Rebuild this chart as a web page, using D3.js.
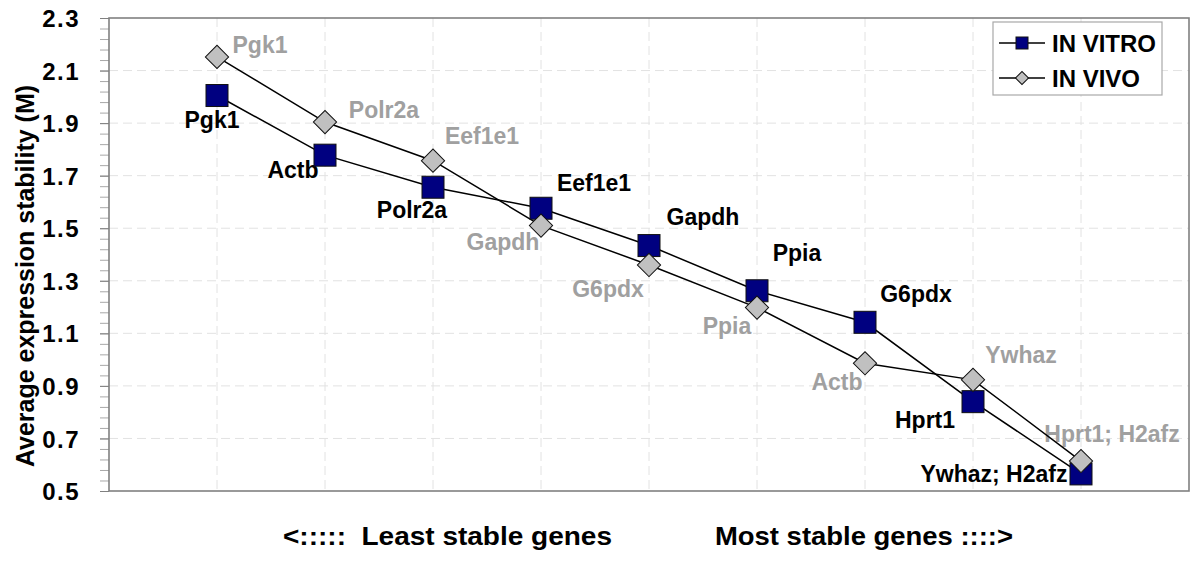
<!DOCTYPE html>
<html>
<head>
<meta charset="utf-8">
<script src="https://cdn.jsdelivr.net/npm/d3@7"></script>
<style>
  html, body { margin: 0; padding: 0; background: #fff; }
  svg { display: block; font-family: "Liberation Sans", Arial, sans-serif; font-weight: bold; }
</style>
</head>
<body>
<svg id="chart" width="1200" height="570"></svg>
<script>
// ---- data ----
const positions = [1, 2, 3, 4, 5, 6, 7, 8, 9];
const vitroGenes = ["Pgk1", "Actb", "Polr2a", "Eef1e1", "Gapdh", "Ppia", "G6pdx", "Hprt1", "Ywhaz; H2afz"];
const vitroValues = [2.005, 1.778, 1.656, 1.576, 1.434, 1.262, 1.142, 0.840, 0.565];
const vivoGenes = ["Pgk1", "Polr2a", "Eef1e1", "Gapdh", "G6pdx", "Ppia", "Actb", "Ywhaz", "Hprt1; H2afz"];
const vivoValues = [2.152, 1.904, 1.757, 1.510, 1.360, 1.198, 0.986, 0.923, 0.614];
const yTicks = [0.5, 0.7, 0.9, 1.1, 1.3, 1.5, 1.7, 1.9, 2.1, 2.3];
const seriesNames = ["IN VITRO", "IN VIVO"];
const yTitle = "Average expression stability (M)";
const leftNote = "<:::::  Least stable genes";
const rightNote = "Most stable genes ::::>";

// ---- layout (label offsets in pixels relative to each marker) ----
const vitroLabelOffsets = [[-5, 32], [-32, 23], [-21, 31], [53, -17], [54, -21], [40, -30], [51, -20], [-48, 26], [-87, 8]];
const vivoLabelOffsets = [[43, -4], [59, -4], [49, -17], [-38, 24], [-41, 32], [-30, 26], [-28, 27], [48, -17], [31, -19]];

(function () {
const svg = d3.select("#chart");
const pLeft = 109, pRight = 1189, pTop = 18, pBottom = 491;
const x = d3.scaleLinear().domain([0, 10]).range([pLeft, pRight]);
const y = d3.scaleLinear().domain([0.5, 2.3]).range([pBottom, pTop]);

const NAVY = "#000080", GRAY = "#c0c0c0", LABELGRAY = "#a0a0a0";

// gridlines
const grid = svg.append("g");
grid.selectAll("line.h").data(yTicks.slice(1, -1)).join("line").attr("class", "h")
  .attr("x1", pLeft).attr("x2", pRight)
  .attr("y1", d => y(d)).attr("y2", d => y(d))
  .attr("stroke", "#e2e2e2").attr("stroke-width", 1).attr("stroke-dasharray", "9,5");
grid.selectAll("line.v").data(positions).join("line").attr("class", "v")
  .attr("x1", d => x(d)).attr("x2", d => x(d))
  .attr("y1", pTop).attr("y2", pBottom)
  .attr("stroke", "#e2e2e2").attr("stroke-width", 1).attr("stroke-dasharray", "9,5");

// minor ticks
const minor = d3.range(0, 46).map(i => 0.5 + i * 0.04);
const yAxisMinor = d3.axisLeft(y).tickValues(minor).tickSize(9).tickFormat("");
const gMinor = svg.append("g").attr("transform", `translate(${pLeft},0)`).call(yAxisMinor);
gMinor.select(".domain").remove();
gMinor.selectAll("line").attr("stroke", "#a8a8a8").attr("stroke-width", 1);

// major axis
const yAxis = d3.axisLeft(y).tickValues(yTicks).tickSize(9).tickPadding(20).tickFormat(d3.format(".1f"));
const gAxis = svg.append("g").attr("transform", `translate(${pLeft},0)`).call(yAxis);
gAxis.select(".domain").remove();
gAxis.selectAll("line").attr("stroke", "#808080").attr("stroke-width", 1);
gAxis.selectAll("text")
  .attr("font-family", "Liberation Sans, Arial, sans-serif")
  .attr("font-weight", "bold").attr("font-size", 24)
  .attr("letter-spacing", "1.5px")
  .attr("fill", "#000").attr("dy", "0.36em");

// frame
svg.append("rect").attr("x", pLeft).attr("y", pTop)
  .attr("width", pRight - pLeft).attr("height", pBottom - pTop)
  .attr("fill", "none").attr("stroke", "#808080").attr("stroke-width", 1.6);

// y title
svg.append("text")
  .attr("transform", `translate(34,276) rotate(-90)`)
  .attr("text-anchor", "middle").attr("font-size", 25)
  .attr("textLength", 382).attr("lengthAdjust", "spacingAndGlyphs")
  .text(yTitle);

// bottom notes
svg.append("text").attr("x", 283).attr("y", 545).attr("font-size", 25)
  .style("white-space", "pre")
  .attr("textLength", 329).attr("lengthAdjust", "spacingAndGlyphs")
  .text(leftNote);
svg.append("text").attr("x", 715).attr("y", 545).attr("font-size", 25)
  .attr("textLength", 298).attr("lengthAdjust", "spacingAndGlyphs")
  .text(rightNote);

const vitro = positions.map((p, i) => ({p, v: vitroValues[i], name: vitroGenes[i], off: vitroLabelOffsets[i]}));
const vivo = positions.map((p, i) => ({p, v: vivoValues[i], name: vivoGenes[i], off: vivoLabelOffsets[i]}));

// labels (under lines)
svg.append("g").selectAll("text").data(vitro).join("text")
  .attr("x", d => x(d.p) + d.off[0]).attr("y", d => y(d.v) + d.off[1])
  .attr("text-anchor", "middle").attr("font-size", 23).attr("fill", "#000")
  .text(d => d.name);
svg.append("g").selectAll("text").data(vivo).join("text")
  .attr("x", d => x(d.p) + d.off[0]).attr("y", d => y(d.v) + d.off[1])
  .attr("text-anchor", "middle").attr("font-size", 23).attr("fill", LABELGRAY)
  .text(d => d.name);

// lines
const line = d3.line().x(d => x(d.p)).y(d => y(d.v));
svg.append("path").datum(vitro).attr("d", line).attr("fill", "none").attr("stroke", "#000").attr("stroke-width", 1.5);
svg.append("path").datum(vivo).attr("d", line).attr("fill", "none").attr("stroke", "#000").attr("stroke-width", 1.5);

// markers
const sq = 22;
svg.append("g").selectAll("rect").data(vitro).join("rect")
  .attr("x", d => x(d.p) - sq / 2).attr("y", d => y(d.v) - sq / 2)
  .attr("width", sq).attr("height", sq)
  .attr("fill", NAVY).attr("stroke", "#111").attr("stroke-width", 1);
const diamond = d3.symbol().type(d3.symbolSquare).size(270);
svg.append("g").selectAll("path").data(vivo).join("path")
  .attr("d", diamond)
  .attr("transform", d => `translate(${x(d.p)},${y(d.v)}) rotate(45)`)
  .attr("fill", GRAY).attr("stroke", "#111").attr("stroke-width", 1);

// legend
const lg = svg.append("g");
lg.append("rect").attr("x", 993).attr("y", 22).attr("width", 169).attr("height", 73)
  .attr("fill", "#fff").attr("stroke", "#a8a8a8").attr("stroke-width", 1.2);
const legendRows = [43, 78];
seriesNames.forEach((name, i) => {
  const ly = legendRows[i];
  lg.append("line").attr("x1", 999).attr("x2", 1045).attr("y1", ly).attr("y2", ly)
    .attr("stroke", "#000").attr("stroke-width", 1.5);
  if (i === 0) {
    lg.append("rect").attr("x", 1022 - 6).attr("y", ly - 6).attr("width", 12).attr("height", 12)
      .attr("fill", NAVY).attr("stroke", "#111").attr("stroke-width", 1);
  } else {
    lg.append("path").attr("d", d3.symbol().type(d3.symbolSquare).size(85))
      .attr("transform", `translate(1022,${ly}) rotate(45)`)
      .attr("fill", GRAY).attr("stroke", "#111").attr("stroke-width", 1);
  }
  lg.append("text").attr("x", 1052).attr("y", ly + 9).attr("font-size", 24).attr("fill", "#000").text(name);
});
})();
</script>
</body>
</html>
